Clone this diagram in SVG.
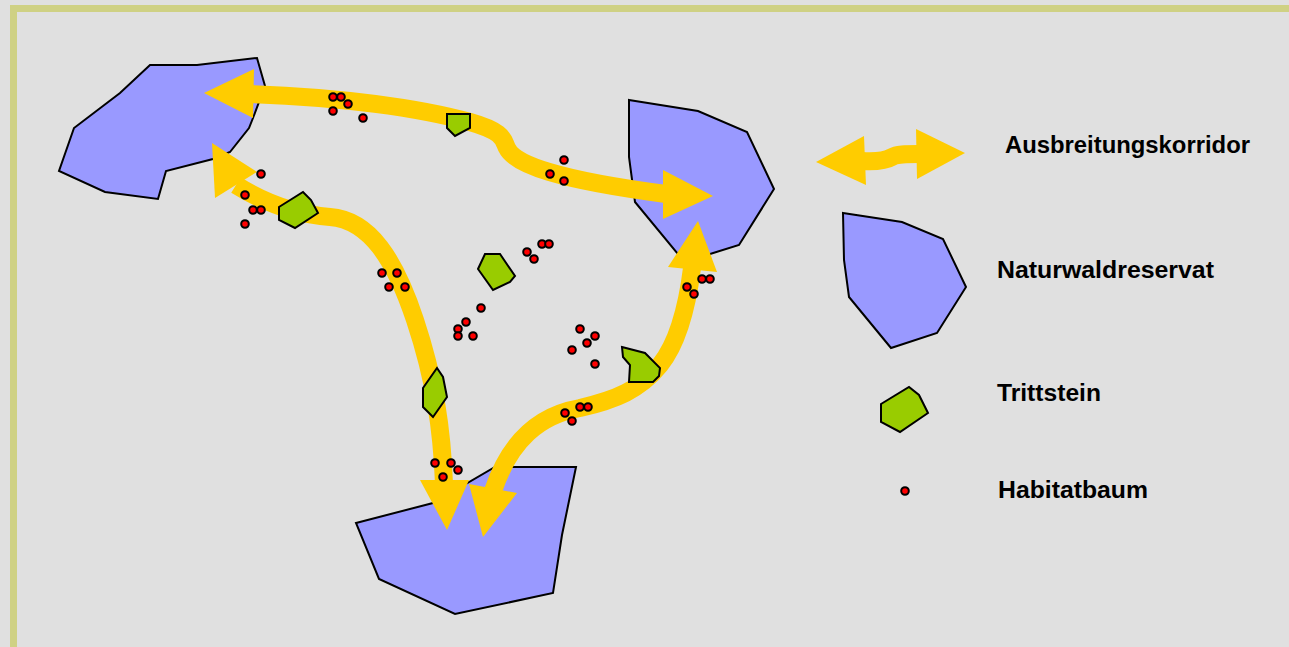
<svg xmlns="http://www.w3.org/2000/svg" width="1289" height="647" viewBox="0 0 1289 647">
<style>
.res{fill:#9999ff;stroke:#000;stroke-width:2;stroke-linejoin:miter}
.stone{fill:#99cc00;stroke:#000;stroke-width:2;stroke-linejoin:miter}
.tree{fill:#ff0000;stroke:#000;stroke-width:2}
.shaft{fill:none;stroke:#ffcc00;stroke-width:18}
.head{fill:#ffcc00}
.lbl{font-family:"Liberation Sans",Arial,sans-serif;font-weight:bold;font-size:23.5px;fill:#000}
</style>
<rect x="0" y="0" width="1289" height="647" fill="#e0e0e0"/>
<path d="M13.5,647 V8.5 H1289" fill="none" stroke="#cfd184" stroke-width="7"/>

<g id="reserve-top-left"><polygon class="res" points="150,65 197,65 257,58 265,86 253,118 249,128 230,152 213,159 166,171 158,199 105,192 59,171 74,128 120,93"/></g>
<g id="reserve-top-right"><polygon class="res" points="629,100 698,111 747,132 774,189 739,245 710,254 693,258 677,253 635,202 629,157"/></g>
<g id="reserve-bottom"><polygon class="res" points="356,523 433,503 495,467 576,467 562,535 553,593 455,614 379,579"/></g>

<g id="connectors">
<path class="shaft" d="M250,94 C340,97 420,108 470,122 C505,132 503,140 507,148 C515,165 560,180 666,194"/>
<polygon class="head" points="254,69 204,93 253,118"/>
<polygon class="head" points="663,170 713,196 663,219"/>
<path class="shaft" d="M236,185 C260,200 290,214 330,217 C370,220 395,260 415,320 C435,380 442,430 444,484"/>
<polygon class="head" points="212,143 257,172 215,198"/>
<polygon class="head" points="420,480 469,480 447,530"/>
<path class="shaft" d="M692,268 C688,300 680,340 660,365 C640,390 615,400 580,408 C540,415 510,440 493,491"/>
<polygon class="head" points="698,221 668,267 717,272"/>
<polygon class="head" points="469,484 517,493 483,537"/>
</g>

<g id="stepping-stones">
<polygon class="stone" points="279,207 303,192 311,200 318,213 295,228 279,220"/>
<polygon class="stone" points="447,114 470,114 470,128 455,136 447,128"/>
<polygon class="stone" points="485,254 500,254 515,276 510,282 493,290 478,269"/>
<polygon class="stone" points="437,368 443,377 447,397 433,417 423,407 423,388"/>
<polygon class="stone" points="622,347 645,353 660,368 659,376 653,382 629,382 630,365 623,357"/>
</g>

<g id="habitat-trees">
<circle class="tree" cx="261" cy="174" r="3.8"/>
<circle class="tree" cx="245" cy="195" r="3.8"/>
<circle class="tree" cx="253" cy="210" r="3.8"/>
<circle class="tree" cx="261" cy="210" r="3.8"/>
<circle class="tree" cx="245" cy="224" r="3.8"/>
<circle class="tree" cx="333" cy="97" r="3.8"/>
<circle class="tree" cx="341" cy="97" r="3.8"/>
<circle class="tree" cx="348" cy="104" r="3.8"/>
<circle class="tree" cx="333" cy="111" r="3.8"/>
<circle class="tree" cx="363" cy="118" r="3.8"/>
<circle class="tree" cx="564" cy="160" r="3.8"/>
<circle class="tree" cx="550" cy="174" r="3.8"/>
<circle class="tree" cx="564" cy="181" r="3.8"/>
<circle class="tree" cx="382" cy="273" r="3.8"/>
<circle class="tree" cx="397" cy="273" r="3.8"/>
<circle class="tree" cx="389" cy="287" r="3.8"/>
<circle class="tree" cx="405" cy="287" r="3.8"/>
<circle class="tree" cx="481" cy="308" r="3.8"/>
<circle class="tree" cx="466" cy="322" r="3.8"/>
<circle class="tree" cx="458" cy="329" r="3.8"/>
<circle class="tree" cx="458" cy="336" r="3.8"/>
<circle class="tree" cx="473" cy="336" r="3.8"/>
<circle class="tree" cx="527" cy="252" r="3.8"/>
<circle class="tree" cx="534" cy="259" r="3.8"/>
<circle class="tree" cx="542" cy="244" r="3.8"/>
<circle class="tree" cx="549" cy="244" r="3.8"/>
<circle class="tree" cx="580" cy="329" r="3.8"/>
<circle class="tree" cx="595" cy="336" r="3.8"/>
<circle class="tree" cx="587" cy="343" r="3.8"/>
<circle class="tree" cx="572" cy="350" r="3.8"/>
<circle class="tree" cx="595" cy="364" r="3.8"/>
<circle class="tree" cx="580" cy="407" r="3.8"/>
<circle class="tree" cx="588" cy="407" r="3.8"/>
<circle class="tree" cx="565" cy="413" r="3.8"/>
<circle class="tree" cx="572" cy="421" r="3.8"/>
<circle class="tree" cx="435" cy="463" r="3.8"/>
<circle class="tree" cx="451" cy="463" r="3.8"/>
<circle class="tree" cx="458" cy="470" r="3.8"/>
<circle class="tree" cx="443" cy="477" r="3.8"/>
<circle class="tree" cx="687" cy="287" r="3.8"/>
<circle class="tree" cx="694" cy="294" r="3.8"/>
<circle class="tree" cx="702" cy="279" r="3.8"/>
<circle class="tree" cx="710" cy="279" r="3.8"/>
</g>

<g id="legend-corridor">
<path class="shaft" d="M862,161 C880,162 887,160 892,157 C897,154 905,154 918,154" stroke-width="15"/>
<polygon class="head" points="864,136 816,162 866,185"/>
<polygon class="head" points="916,129 965,153 917,179"/>
<text class="lbl" x="1005" y="153" textLength="245" lengthAdjust="spacingAndGlyphs">Ausbreitungskorridor</text>
</g>
<g id="legend-reserve">
<polygon class="res" points="843,213 902,222 943,239 966,287 937,333 891,348 849,297 844,260"/>
<text class="lbl" x="997" y="278" textLength="217" lengthAdjust="spacingAndGlyphs">Naturwaldreservat</text>
</g>
<g id="legend-stone">
<polygon class="stone" points="881,404 909,387 919,395 928,413 900,432 881,422"/>
<text class="lbl" x="997" y="401" textLength="104" lengthAdjust="spacingAndGlyphs">Trittstein</text>
</g>
<g id="legend-tree">
<circle class="tree" cx="905" cy="491" r="3.8"/>
<text class="lbl" x="998" y="498" textLength="150" lengthAdjust="spacingAndGlyphs">Habitatbaum</text>
</g>
</svg>
